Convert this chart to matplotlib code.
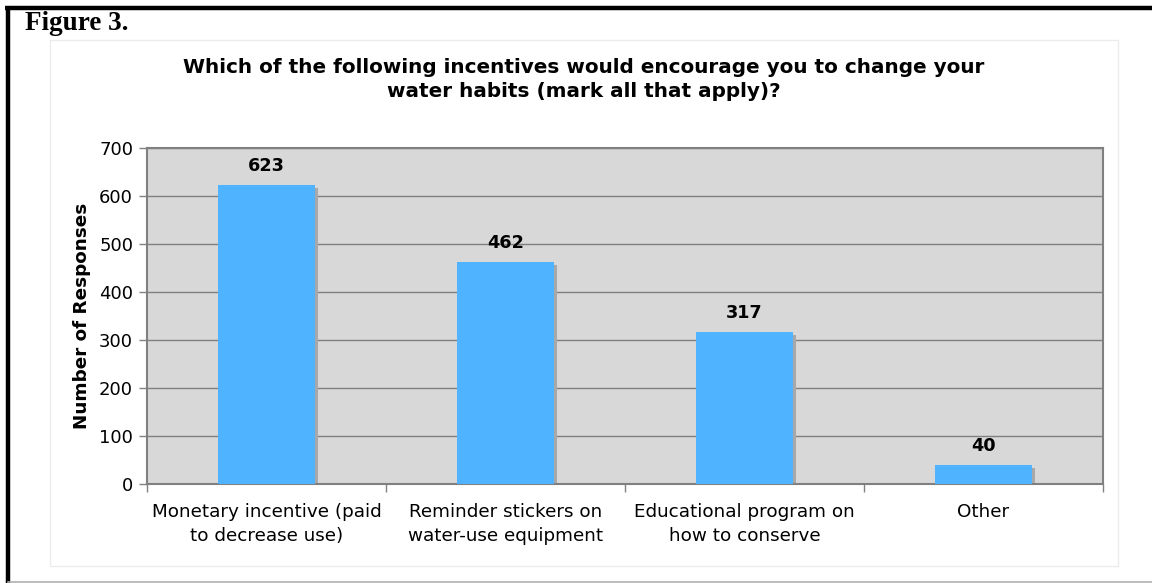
import matplotlib
matplotlib.use("Agg")
import matplotlib.pyplot as plt
from matplotlib.lines import Line2D
from matplotlib.patches import Rectangle

plt.rcParams['font.family'] = ['DejaVu Sans']

categories = ["Monetary incentive (paid\nto decrease use)",
              "Reminder stickers on\nwater-use equipment",
              "Educational program on\nhow to conserve",
              "Other"]
values = [623, 462, 317, 40]
yticks = [0, 100, 200, 300, 400, 500, 600, 700]

W, H = 1152, 583
fig = plt.figure(figsize=(W/100, H/100), dpi=100)
fig.patch.set_facecolor("white")

def fx(px): return px / W
def fy(py): return 1 - py / H

# inner chart box
fig.add_artist(Rectangle((fx(50), fy(566)), fx(1118) - fx(50), fy(40) - fy(566),
                         transform=fig.transFigure, facecolor="white",
                         edgecolor="#ececec", linewidth=1, zorder=0))
# page borders
fig.add_artist(Line2D([fx(5), fx(1152)], [fy(8), fy(8)], transform=fig.transFigure,
                      color="black", linewidth=3.2, solid_capstyle="butt"))
fig.add_artist(Line2D([fx(7.5), fx(7.5)], [fy(6), fy(583)], transform=fig.transFigure,
                      color="black", linewidth=3.2, solid_capstyle="butt"))
fig.add_artist(Line2D([fx(8), fx(1152)], [fy(581.5), fy(581.5)], transform=fig.transFigure,
                      color="#b0b0b0", linewidth=1.2))

fig.text(fx(25), fy(23), "Figure 3.", fontfamily="Liberation Serif", fontweight="bold",
         fontsize=19.5, ha="left", va="center")

ax = fig.add_axes([fx(147), fy(484), fx(1103) - fx(147), fy(148) - fy(484)])
ax.set_facecolor("#d8d8d8")
x = list(range(len(values)))
bw = 0.405
shadow_dx = 0.013
ax.bar([xi + shadow_dx for xi in x], [v - 6 for v in values], width=bw,
       color="#a8a8a8", zorder=2)
ax.bar(x, values, width=bw, color="#4fb3ff", zorder=3)
for xi, v in zip(x, values):
    ax.text(xi, v + 40, str(v), ha="center", va="center", fontsize=12.7,
            fontweight="bold")

ax.set_xlim(-0.5, len(values) - 0.5)
ax.set_ylim(0, 700)
ax.set_yticks(yticks)
ax.set_yticklabels([str(t) for t in yticks], fontsize=13)
ax.yaxis.grid(True, color="#7f7f7f", linewidth=1)
ax.set_axisbelow(True)
ax.set_xticks(x)
ax.set_xticklabels(categories, fontsize=13.2, linespacing=1.4)
ax.tick_params(axis="x", length=0, pad=14)
ax.set_xticks([i - 0.5 for i in range(len(values) + 1)], minor=True)
ax.tick_params(axis="x", which="minor", length=6, color="#808080", width=1)
ax.tick_params(axis="y", length=6, color="#808080", width=1, pad=4)
for s in ax.spines.values():
    s.set_color("#808080")
    s.set_linewidth(1.5)

ax.set_ylabel("Number of Responses", fontsize=13.2, fontweight="bold", labelpad=6)

fig.text(fx(583.5), fy(79.5), "Which of the following incentives would encourage you to change your\nwater habits (mark all that apply)?",
         ha="center", va="center", fontsize=14.4, fontweight="bold", linespacing=1.3)

fig.savefig("out.png", dpi=100)
